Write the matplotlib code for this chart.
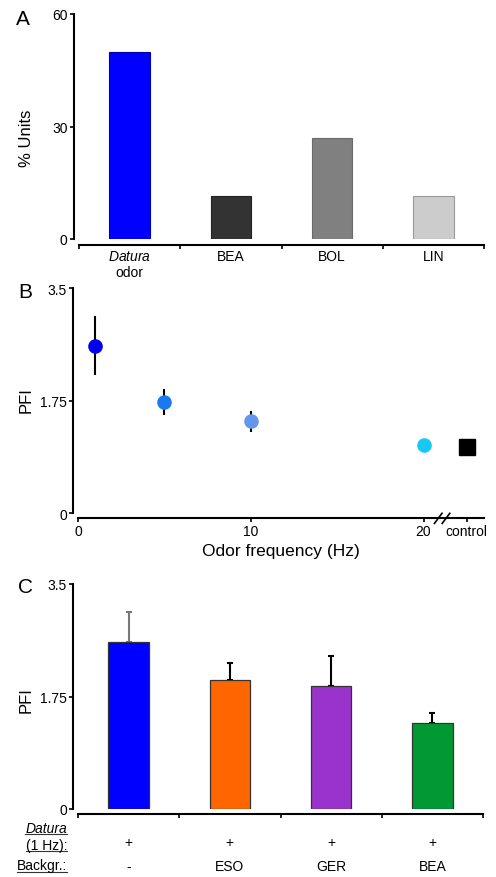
import matplotlib
matplotlib.use('Agg')
import matplotlib.pyplot as plt
from matplotlib.lines import Line2D
from matplotlib.transforms import blended_transform_factory

plt.rcParams['font.family'] = ['Liberation Sans', 'DejaVu Sans']
plt.rcParams['mathtext.fontset'] = 'custom'
plt.rcParams['mathtext.it'] = 'Liberation Sans:italic'
plt.rcParams['mathtext.rm'] = 'Liberation Sans'

# Panel A: % units responding
a_labels = [r'$\mathit{Datura}$' + '\nodor', 'BEA', 'BOL', 'LIN']
a_values = [50, 11.5, 27, 11.5]
a_colors = ['#0000ff', '#333333', '#808080', '#cccccc']
a_edges = ['#0000aa', '#222222', '#6a6a6a', '#9a9a9a']

# Panel B: PFI vs odor frequency
b_freq = [1, 5, 10, 20]
b_pfi = [2.61, 1.73, 1.43, 1.07]
b_sem = [0.46, 0.20, 0.16, 0.0]
b_colors = ['#0000ee', '#1a78f0', '#6496ee', '#17c8f5']
b_control_x = 22.5
b_control = 1.03
b_xticks = [0, 10, 20, 22.5]
b_xticklabels = ['0', '10', '20', 'control']

# Panel C: PFI with backgrounds
c_values = [2.60, 2.00, 1.91, 1.34]
c_sem = [0.46, 0.27, 0.47, 0.16]
c_colors = ['#0000ff', '#ff6600', '#9933cc', '#009933']
c_err_colors = ['#777777', 'black', 'black', 'black']
c_datura = ['+', '+', '+', '+']
c_backgr = ['-', 'ESO', 'GER', 'BEA']

W, H = 496, 878
fig = plt.figure(figsize=(W / 100, H / 100), dpi=100)


def style(ax, bottom_out=4.3):
    for s in ['top', 'right']:
        ax.spines[s].set_visible(False)
    for s in ['left', 'bottom']:
        ax.spines[s].set_linewidth(1.5)
    ax.spines['left'].set_position(('outward', 3.6))
    ax.spines['bottom'].set_position(('outward', bottom_out))
    ax.tick_params(axis='both', which='major', direction='out', length=3,
                   width=1.2, labelsize=10, pad=1.5)
    ax.patch.set_visible(False)


# ---------- A ----------
axA = fig.add_axes([79 / W, 1 - 240 / H, 405 / W, 225 / H])
axA.bar(range(4), a_values, width=0.4, color=a_colors, edgecolor=a_edges, linewidth=0.8)
axA.set_xlim(-0.5, 3.5)
axA.set_ylim(0, 60)
axA.set_yticks([0, 30, 60])
style(axA)
axA.set_xticks([-0.5, 0.5, 1.5, 2.5, 3.5])
axA.set_xticklabels([])
axA.set_xticks(range(4), minor=True)
axA.set_xticklabels(a_labels, minor=True)
axA.tick_params(axis='x', which='minor', length=0, labelsize=10, pad=3)
axA.set_ylabel('% Units', fontsize=12)
axA.yaxis.set_label_coords(-0.11, 0.453)

# ---------- B ----------
axB = fig.add_axes([78 / W, 1 - 514.3 / H, 406 / W, 225 / H])
for f, p, e, c in zip(b_freq, b_pfi, b_sem, b_colors):
    if e > 0:
        axB.errorbar(f, p, yerr=e, fmt='none', ecolor='black', elinewidth=1.5,
                     capsize=0, zorder=2)
    axB.plot(f, p, 'o', color=c, markersize=10.5, markeredgewidth=0, zorder=3)
axB.plot(b_control_x, b_control, 's', color='black', markersize=11, zorder=3)
axB.set_xlim(0, 23.5)
axB.set_ylim(0, 3.5)
axB.set_yticks([0, 1.75, 3.5])
axB.set_yticklabels(['0', '1.75', '3.5'])
style(axB, bottom_out=3.3)
axB.set_xticks(b_xticks)
axB.set_xticklabels(b_xticklabels)
axB.set_xlabel('Odor frequency (Hz)', fontsize=12.5)
axB.xaxis.set_label_coords(0.5, -0.133)
axB.set_ylabel('PFI', fontsize=12)
axB.yaxis.set_label_coords(-0.11, 0.508)
# axis break marks
tB = blended_transform_factory(axB.transData, axB.transAxes)
for xb in [20.85, 21.3]:
    axB.add_line(Line2D([xb - 0.22, xb + 0.22], [-0.045, 0.0], transform=tB,
                        color='black', lw=1.2, clip_on=False))

# ---------- C ----------
axC = fig.add_axes([78 / W, 1 - 810 / H, 405 / W, 225 / H])
axC.bar(range(4), c_values, width=0.4, color=c_colors, edgecolor='#333333', linewidth=0.9,
        zorder=2)
for i, (v, e, ec) in enumerate(zip(c_values, c_sem, c_err_colors)):
    axC.errorbar(i, v, yerr=[[0], [e]], fmt='none', ecolor=ec, elinewidth=1.5,
                 capsize=2.5, capthick=1.5, zorder=1)
axC.set_xlim(-0.5, 3.5)
axC.set_ylim(0, 3.5)
axC.set_yticks([0, 1.75, 3.5])
axC.set_yticklabels(['0', '1.75', '3.5'])
style(axC, bottom_out=3.6)
axC.set_xticks([-0.5, 0.5, 1.5, 2.5, 3.5])
axC.set_xticklabels([])
axC.set_ylabel('PFI', fontsize=12)
axC.yaxis.set_label_coords(-0.11, 0.489)
tC = blended_transform_factory(axC.transData, axC.transAxes)
for i, (d, b) in enumerate(zip(c_datura, c_backgr)):
    axC.text(i, -0.145, d, transform=tC, ha='center', va='center', fontsize=10)
    axC.text(i, -0.252, b, transform=tC, ha='center', va='center', fontsize=10)

row_texts = [
    fig.text(67 / W, 1 - 829 / H, 'Datura', ha='right', va='center', fontsize=10, style='italic'),
    fig.text(67 / W, 1 - 846 / H, '(1 Hz):', ha='right', va='center', fontsize=10),
    fig.text(67 / W, 1 - 866.5 / H, 'Backgr.:', ha='right', va='center', fontsize=10),
]

# panel letters
fig.text(16 / W, 1 - 25 / H, 'A', fontsize=15)
fig.text(18 / W, 1 - 298 / H, 'B', fontsize=15)
fig.text(18 / W, 1 - 593 / H, 'C', fontsize=15)

# underline the row labels
fig.canvas.draw()
r = fig.canvas.get_renderer()
for t in row_texts:
    bb = t.get_window_extent(r)
    y = (bb.y0 + 1) / H
    fig.add_artist(Line2D([bb.x0 / W, bb.x1 / W], [y, y], transform=fig.transFigure,
                          color='#333333', lw=0.8))

fig.savefig('out.png', dpi=100)
